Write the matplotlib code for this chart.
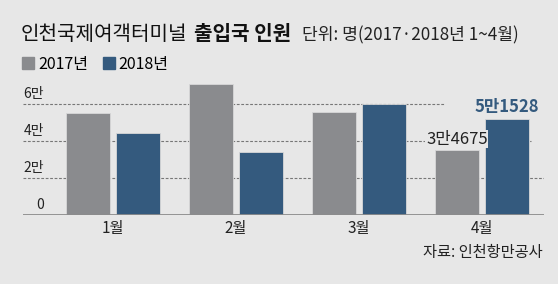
import matplotlib.pyplot as plt
import numpy as np
from matplotlib.patches import Patch

plt.rcParams['font.family'] = ['Noto Sans CJK KR', 'DejaVu Sans']

months = ['1월', '2월', '3월', '4월']
series = ['2017년', '2018년']
v2017 = [55000, 70300, 55300, 34675]
v2018 = [44300, 34000, 59800, 51528]
yticks = [0, 20000, 40000, 60000]
ytick_labels = ['0', '2만', '4만', '6만']

bg = '#e7e7e7'
c2017 = '#8a8b8e'
c2018 = '#345a7e'

fig = plt.figure(figsize=(5.58, 2.84), dpi=100, facecolor=bg)
ax = fig.add_axes([23 / 558, 69.5 / 284, 521 / 558, 133.2 / 284])
ax.set_facecolor(bg)

x = np.arange(len(months))
w = 0.36
off = 0.204
ax.set_xlim(-0.731, 3.505)
ax.set_ylim(0, 72000)

# dashed grid lines (top one stops before the 4월 label)
ax.hlines(20000, -0.731, 3.505, colors='#777777', linestyles=(0, (2.5, 1.5)), lw=0.8, zorder=1)
ax.hlines(40000, -0.731, 3.4, colors='#777777', linestyles=(0, (2.5, 1.5)), lw=0.8, zorder=1)
ax.hlines(60000, -0.731, 2.7, colors='#777777', linestyles=(0, (2.5, 1.5)), lw=0.8, zorder=1)

ax.bar(x - off, v2017, w, color=c2017, edgecolor='#d8d8d8', lw=0.6, zorder=2)
ax.bar(x + off, v2018, w, color=c2018, edgecolor='#d8d8d8', lw=0.6, zorder=2)

ax.axhline(0, color='#8c8c8c', lw=2, zorder=3)

for s in ax.spines.values():
    s.set_visible(False)
ax.set_xticks([])
ax.set_yticks([])

# y labels sit above each grid line
for v, lab in zip(yticks, ytick_labels):
    ax.text(-0.56, v + 1200, lab, ha='right', va='bottom', fontsize=10, color='#222222')

for xi, m in zip(x, months):
    ax.text(xi, -3000, m, ha='center', va='top', fontsize=11, color='#222222')

ax.text(3 - off, v2017[3] + 1500, '3만4675', ha='center', va='bottom', fontsize=12,
        color='#222222', bbox=dict(facecolor=bg, edgecolor='none', pad=0.5), zorder=4)
ax.text(3 + off, v2018[3] + 1500, '5만1528', ha='center', va='bottom', fontsize=12,
        fontweight='bold', color=c2018, zorder=4)

fig.text(543 / 558, 1 - 252 / 284, '자료: 인천항만공사', ha='right', va='center',
         fontsize=11, color='#222222')

# title pieces
base = 1 - 40 / 284
t1 = fig.text(21 / 558, base, '인천국제여객터미널', fontsize=14.5, va='baseline', color='#111111')
t2 = fig.text(0, 0, '출입국 인원', fontsize=14.5, fontweight='bold', va='baseline', color='#111111')
t3 = fig.text(0, 0, '단위: 명(2017·2018년 1~4월)', fontsize=12.3, va='baseline', color='#222222')
fig.canvas.draw()
r = fig.canvas.get_renderer()
bb = t1.get_window_extent(r)
t2.set_position(((bb.x1 + 7) / 558, base))
fig.canvas.draw()
bb = t2.get_window_extent(r)
t3.set_position(((bb.x1 + 10) / 558, base))

handles = [Patch(color=c2017), Patch(color=c2018)]
fig.legend(handles, series, loc='center left', bbox_to_anchor=(16 / 558, 1 - 64 / 284), ncol=2,
           frameon=False, fontsize=11.5, handlelength=0.75, handleheight=0.75, handletextpad=0.25,
           columnspacing=0.9, borderaxespad=0)

fig.savefig('out.png', dpi=100, facecolor=bg)
